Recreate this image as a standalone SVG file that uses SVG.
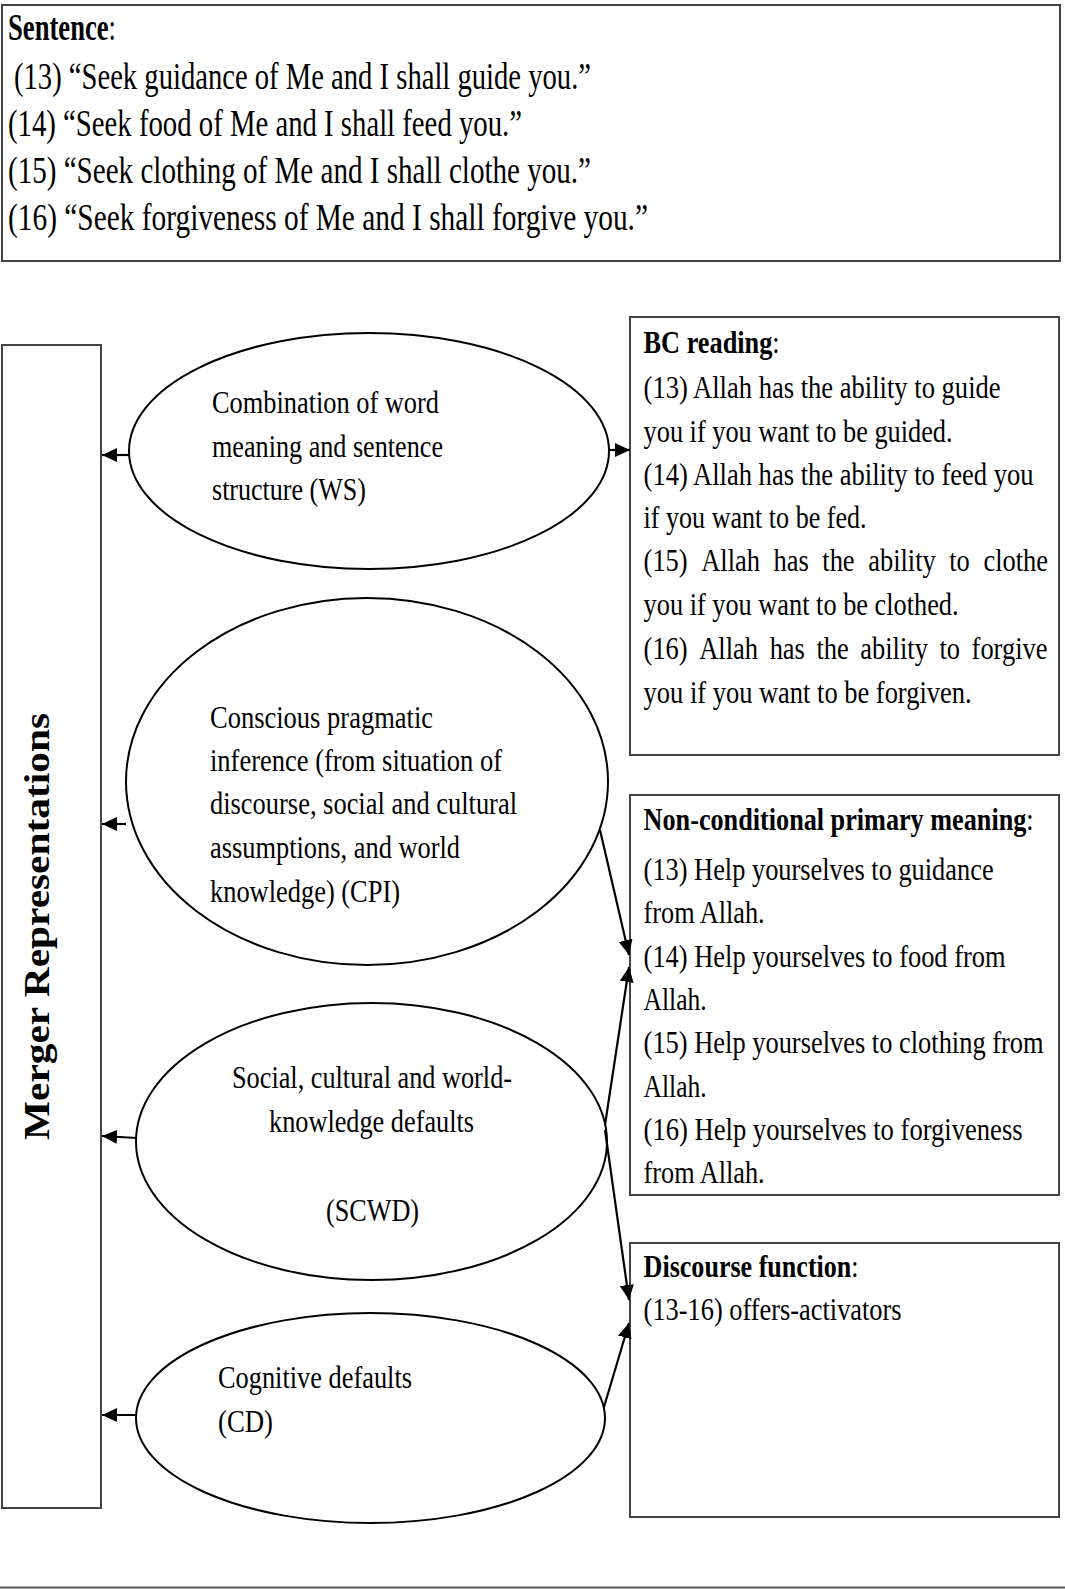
<svg xmlns="http://www.w3.org/2000/svg" width="1065" height="1589" viewBox="0 0 1065 1589">
<style>
.t { font-family: "Liberation Serif", "Times New Roman", serif; font-size: 32px; fill: #000; }
.tl { font-size: 37px; }
.b { font-weight: bold; }
.box { fill: #fff; stroke: #444; stroke-width: 2; }
.ell { fill: #fff; stroke: #000; stroke-width: 2; }
.conn line { stroke: #000; stroke-width: 2.2; marker-end: url(#ah); }
</style>
<defs>
<marker id="ah" markerUnits="userSpaceOnUse" markerWidth="16" markerHeight="14" refX="15" refY="7" orient="auto">
<path d="M0,0 L15,7 L0,14 z" fill="#000"/>
</marker>
</defs>
<rect width="1065" height="1589" fill="#fff"/>

<g id="sentence">
<rect class="box" x="2" y="5" width="1058" height="256" stroke-width="2.5"/>
<text class="t tl" x="8" y="40" textLength="108" lengthAdjust="spacingAndGlyphs"><tspan class="b">Sentence</tspan>:</text>
<text class="t tl" x="14" y="89" textLength="577" lengthAdjust="spacingAndGlyphs">(13) “Seek guidance of Me and I shall guide you.”</text>
<text class="t tl" x="8" y="136" textLength="514" lengthAdjust="spacingAndGlyphs">(14) “Seek food of Me and I shall feed you.”</text>
<text class="t tl" x="8" y="183" textLength="583" lengthAdjust="spacingAndGlyphs">(15) “Seek clothing of Me and I shall clothe you.”</text>
<text class="t tl" x="8" y="230" textLength="640" lengthAdjust="spacingAndGlyphs">(16) “Seek forgiveness of Me and I shall forgive you.”</text>
</g>

<g id="merger">
<rect class="box" x="2" y="345" width="99" height="1163" stroke="#222"/>
<text class="t b" transform="translate(49,1140) rotate(-90) scale(1,0.853)" x="0" y="0" style="font-size:41px" textLength="427" lengthAdjust="spacingAndGlyphs">Merger Representations</text>
</g>

<g id="ws">
<ellipse class="ell" cx="369" cy="451" rx="240" ry="118"/>
<text class="t" x="212" y="413" textLength="227" lengthAdjust="spacingAndGlyphs">Combination of word</text>
<text class="t" x="212" y="456.5" textLength="231" lengthAdjust="spacingAndGlyphs">meaning and sentence</text>
<text class="t" x="212" y="500" textLength="154" lengthAdjust="spacingAndGlyphs">structure (WS)</text>
</g>

<g id="cpi">
<ellipse class="ell" cx="367" cy="781.5" rx="241" ry="183.5"/>
<text class="t" x="210" y="728" textLength="223" lengthAdjust="spacingAndGlyphs">Conscious pragmatic</text>
<text class="t" x="210" y="771" textLength="292" lengthAdjust="spacingAndGlyphs">inference (from situation of</text>
<text class="t" x="210" y="814" textLength="307" lengthAdjust="spacingAndGlyphs">discourse, social and cultural</text>
<text class="t" x="210" y="858" textLength="250" lengthAdjust="spacingAndGlyphs">assumptions, and world</text>
<text class="t" x="210" y="902" textLength="190" lengthAdjust="spacingAndGlyphs">knowledge) (CPI)</text>
</g>

<g id="scwd">
<ellipse class="ell" cx="371.5" cy="1141.5" rx="235.5" ry="138.5"/>
<text class="t" x="232" y="1088" textLength="280" lengthAdjust="spacingAndGlyphs">Social, cultural and world-</text>
<text class="t" x="269" y="1132" textLength="205" lengthAdjust="spacingAndGlyphs">knowledge defaults</text>
<text class="t" x="326" y="1221" textLength="93" lengthAdjust="spacingAndGlyphs">(SCWD)</text>
</g>

<g id="cd">
<ellipse class="ell" cx="370.5" cy="1418" rx="234.5" ry="105"/>
<text class="t" x="218" y="1388" textLength="194" lengthAdjust="spacingAndGlyphs">Cognitive defaults</text>
<text class="t" x="218" y="1432" textLength="55" lengthAdjust="spacingAndGlyphs">(CD)</text>
</g>

<g id="bc">
<rect class="box" x="630" y="317" width="429" height="438"/>
<text class="t" x="643.6" y="353" textLength="136" lengthAdjust="spacingAndGlyphs"><tspan class="b">BC reading</tspan>:</text>
<text class="t" x="643.6" y="398" textLength="357" lengthAdjust="spacingAndGlyphs">(13) Allah has the ability to guide</text>
<text class="t" x="643.6" y="441.5" textLength="309" lengthAdjust="spacingAndGlyphs">you if you want to be guided.</text>
<text class="t" x="643.6" y="485" textLength="390" lengthAdjust="spacingAndGlyphs">(14) Allah has the ability to feed you</text>
<text class="t" x="643.6" y="528" textLength="223" lengthAdjust="spacingAndGlyphs">if you want to be fed.</text>
<text class="t" transform="translate(0,571) scale(0.8266,1)" y="0"><tspan x="778.6">(15)</tspan><tspan x="848.3">Allah</tspan><tspan x="935.8">has</tspan><tspan x="994.8">the</tspan><tspan x="1050.3">ability</tspan><tspan x="1148.4">to</tspan><tspan x="1189.7">clothe</tspan></text>
<text class="t" x="643.6" y="615" textLength="315" lengthAdjust="spacingAndGlyphs">you if you want to be clothed.</text>
<text class="t" transform="translate(0,659) scale(0.8266,1)" y="0"><tspan x="778.6">(16)</tspan><tspan x="845.9">Allah</tspan><tspan x="931.1">has</tspan><tspan x="987.7">the</tspan><tspan x="1040.8">ability</tspan><tspan x="1136.6">to</tspan><tspan x="1175.4">forgive</tspan></text>
<text class="t" x="643.6" y="703" textLength="328" lengthAdjust="spacingAndGlyphs">you if you want to be forgiven.</text>
</g>

<g id="ncpm">
<rect class="box" x="630" y="795" width="429" height="400"/>
<text class="t" x="643.6" y="830" textLength="390" lengthAdjust="spacingAndGlyphs"><tspan class="b">Non-conditional primary meaning</tspan>:</text>
<text class="t" x="643.6" y="880" textLength="350" lengthAdjust="spacingAndGlyphs">(13) Help yourselves to guidance</text>
<text class="t" x="643.6" y="923" textLength="121" lengthAdjust="spacingAndGlyphs">from Allah.</text>
<text class="t" x="643.6" y="967" textLength="362" lengthAdjust="spacingAndGlyphs">(14) Help yourselves to food from</text>
<text class="t" x="643.6" y="1010" textLength="63" lengthAdjust="spacingAndGlyphs">Allah.</text>
<text class="t" x="643.6" y="1053" textLength="400" lengthAdjust="spacingAndGlyphs">(15) Help yourselves to clothing from</text>
<text class="t" x="643.6" y="1097" textLength="63" lengthAdjust="spacingAndGlyphs">Allah.</text>
<text class="t" x="643.6" y="1140" textLength="379" lengthAdjust="spacingAndGlyphs">(16) Help yourselves to forgiveness</text>
<text class="t" x="643.6" y="1183" textLength="121" lengthAdjust="spacingAndGlyphs">from Allah.</text>
</g>

<g id="df">
<rect class="box" x="630" y="1243" width="429" height="274"/>
<text class="t" x="643.6" y="1277" textLength="215" lengthAdjust="spacingAndGlyphs"><tspan class="b">Discourse function</tspan>:</text>
<text class="t" x="643.6" y="1320" textLength="258" lengthAdjust="spacingAndGlyphs">(13-16) offers-activators</text>
</g>

<line x1="0" y1="1587.5" x2="1065" y2="1587.5" stroke="#555" stroke-width="2"/>

<g id="connectors" class="conn">
<line x1="129" y1="455" x2="102" y2="455"/>
<line x1="609" y1="450" x2="630" y2="450"/>
<line x1="126" y1="824" x2="102" y2="824"/>
<line x1="600" y1="830" x2="629" y2="955"/>
<line x1="137" y1="1138" x2="102" y2="1136"/>
<line x1="605" y1="1125" x2="629" y2="967"/>
<line x1="605" y1="1130" x2="629" y2="1300"/>
<line x1="136" y1="1415" x2="102" y2="1415"/>
<line x1="604" y1="1407" x2="629" y2="1323"/>
</g>
</svg>
